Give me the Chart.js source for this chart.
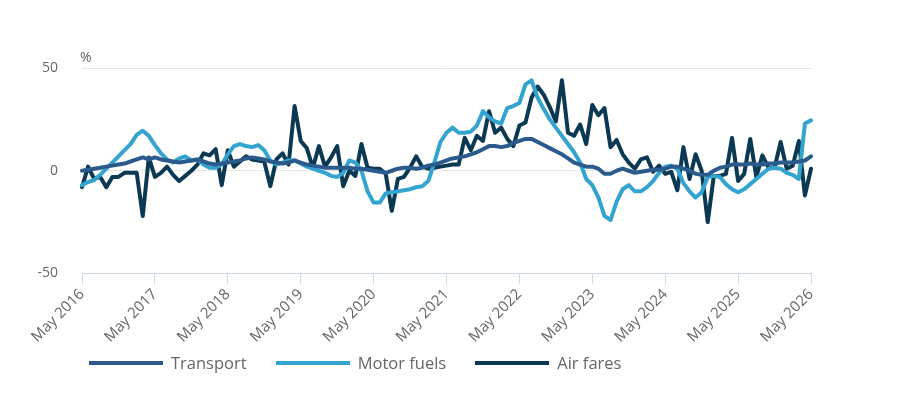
<!DOCTYPE html>
<html>
<head>
<meta charset="utf-8">
<script src="https://cdn.jsdelivr.net/npm/chart.js@4"></script>
<style>
  body { margin: 0; background: #fff; font-family: 'Open Sans', sans-serif; }
  #wrap { position: relative; width: 899px; height: 418px; }
  #legend { position: absolute; left: 89px; top: 351px; display: flex; align-items: center; }
  #legend .item { display: flex; align-items: center; margin-right: 29px; font-size: 16.5px; color: #666; }
  #legend .line { width: 74px; height: 4px; margin-right: 8px; }
</style>
</head>
<body>
<div id="wrap">
  <canvas id="chart"></canvas>
  <div id="legend"></div>
</div>
<script>
const startYear = 2016
const monthNames = ['Jan', 'Feb', 'Mar', 'Apr', 'May', 'Jun', 'Jul', 'Aug', 'Sep', 'Oct', 'Nov', 'Dec']
const yTicks = [-50, 0, 50]

// monthly % change, May 2016 .. May 2026
// prettier-ignore
const transport = [
  0, 0.5, 1, 1.5, 2, 2.5, 3, 3.5, 4.5, 5.5, 6.5, 5.5,
  6.5, 5.5, 5, 4.5, 4, 4.5, 5, 5.5, 4.5, 3.5, 3, 3.5,
  4, 4.5, 5, 6, 6.5, 6, 5.5, 4.5, 4, 3.5, 4, 5,
  4, 3, 2.5, 2, 1.5, 1.5, 1.5, 1.5, 1.5, 1, 1, 0.5,
  0, -0.5, -1, 0, 1, 1.5, 1.5, 1, 1.5, 2.5, 3, 4,
  5, 6, 6.5, 7, 8, 9, 10.5, 12, 12, 11.5, 12, 13.5,
  14.5, 15.5, 15.5, 14, 12.5, 11, 9.5, 8, 6, 4, 3, 2,
  2, 1, -1.5, -1.5, 0, 1, 0, -1, -0.5, 0, 0.5, 0.5,
  1, 2, 2, 1, 0, -1.5, -2, -2, 0, 1.5, 2, 3,
  3, 3, 3.5, 3, 3, 3.5, 3.5, 4, 4, 4, 4.5, 5,
  7,
]
// prettier-ignore
const motorFuels = [
  -7, -5.5, -4.5, -2, 1, 4, 7, 10, 13, 17.5, 19.5, 17,
  12.5, 8.5, 5.5, 4, 6, 7, 5, 5.5, 3, 1.5, 1.5, 3,
  8, 12, 13, 12, 11.5, 12.5, 10, 5, 3, 4, 5, 5,
  3.5, 2, 1, 0, -1, -2.5, -3, -1, 5, 4, 0, -10,
  -15.5, -15.5, -11, -10.5, -10, -9.5, -9, -8, -7.5, -5, 4, 14,
  18.5, 21, 18.5, 18.5, 19, 22, 29, 26, 24, 23, 30.5, 31.5,
  33, 42, 44, 35.5, 30, 25, 21, 17, 13, 9, 4, -4,
  -7, -13, -22, -24, -15, -9, -7, -10, -10, -8, -5, -1,
  2, 2.5, 1, -6, -10, -13, -10.5, -3, -2.5, -3, -6.5, -9,
  -10.5, -9, -6.5, -4, -1.5, 1, 1.5, 1, -1, -2, -4, 23,
  24.5,
]
// prettier-ignore
const airFares = [
  -8, 2, -4, -3, -8, -3, -3, -1, -1, -1, -22, 6.5,
  -3, -1, 2, -2, -5, -2.5, 0, 3, 8.5, 7.5, 10.5, -7,
  10, 2, 4.5, 7, 5.5, 5, 4.5, -7.5, 5.5, 8.5, 3, 31.5,
  14.5, 11, 1.5, 12, 2, 6.5, 12, -7.5, 0, -2.5, 13, 1.5,
  1, 1, -1.5, -19.5, -4, -3, 1.5, 7, 2, 1, 1.5, 2,
  2.5, 3, 3, 16, 10, 17, 14.5, 29, 18.5, 21, 15.5, 12,
  22, 23.5, 35.5, 41, 37, 31, 24, 44, 18.5, 17, 22.5, 13,
  32, 27, 30.5, 11.5, 15, 8, 4, 1, 5.5, 6.5, -0.5, 2.5,
  -1.5, -0.5, -9.5, 11.5, -4, 8, 0, -25, -2.5, -2.5, -1.5, 16,
  -5, -1.5, 15.5, -3, 7.5, 1.5, 1.5, 14, 1, 2.5, 14.5, -12,
  1,
]

const series = [
  { label: 'Transport', data: transport, color: '#2a5b8c' },
  { label: 'Motor fuels', data: motorFuels, color: '#33a4cf' },
  { label: 'Air fares', data: airFares, color: '#0b3852' },
]

const labels = transport.map((_, i) => {
  const m = 4 + i
  return monthNames[m % 12] + ' ' + (startYear + Math.floor(m / 12))
})

const textColor = '#666'
const font = { family: "'Open Sans', sans-serif", size: 14 }

const unitLabel = {
  id: 'unitLabel',
  afterDraw(chart) {
    const { ctx, chartArea } = chart
    ctx.save()
    ctx.font = "14px 'Open Sans', sans-serif"
    ctx.fillStyle = textColor
    ctx.textAlign = 'left'
    ctx.textBaseline = 'middle'
    ctx.fillText('%', chartArea.left - 2, chartArea.top - 10)
    ctx.restore()
  },
}

new Chart(document.getElementById('chart'), {
  type: 'line',
  data: {
    labels: labels,
    datasets: series.map((s) => ({
      label: s.label,
      data: s.data,
      borderColor: s.color,
      backgroundColor: s.color,
      borderWidth: 4,
      borderJoinStyle: 'round',
      borderCapStyle: 'round',
      pointRadius: 0,
      tension: 0,
    })),
  },
  options: {
    responsive: true,
    maintainAspectRatio: false,
    animation: false,
    layout: { padding: { top: 68, right: 88, bottom: 70, left: 10 } },
    plugins: {
      legend: { display: false },
      tooltip: { enabled: false },
    },
    scales: {
      x: {
        ticks: {
          autoSkip: false,
          maxRotation: 45,
          minRotation: 45,
          color: textColor,
          font: { family: font.family, size: 15 },
          padding: 2,
          callback: (v, i) => (i % 12 === 0 ? labels[i] : null),
        },
        grid: {
          drawOnChartArea: false,
          tickLength: 10,
          tickColor: '#ccd6eb',
        },
        border: { color: '#ccd6eb', width: 1 },
      },
      y: {
        min: -50,
        max: 50,
        afterBuildTicks: (scale) => {
          scale.ticks = yTicks.map((v) => ({ value: v }))
        },
        afterFit: (scale) => {
          scale.width = 72
        },
        ticks: { color: textColor, font: font, padding: 24 },
        grid: {
          drawTicks: false,
          color: (ctx) => (ctx.tick && ctx.tick.value === -50 ? 'rgba(0,0,0,0)' : '#e6e6e6'),
        },
        border: { display: false },
      },
    },
  },
  plugins: [unitLabel],
})

const legend = document.getElementById('legend')
series.forEach((s) => {
  const item = document.createElement('div')
  item.className = 'item'
  item.innerHTML = '<span class="line" style="background:' + s.color + '"></span><span>' + s.label + '</span>'
  legend.appendChild(item)
})
</script>
</body>
</html>
